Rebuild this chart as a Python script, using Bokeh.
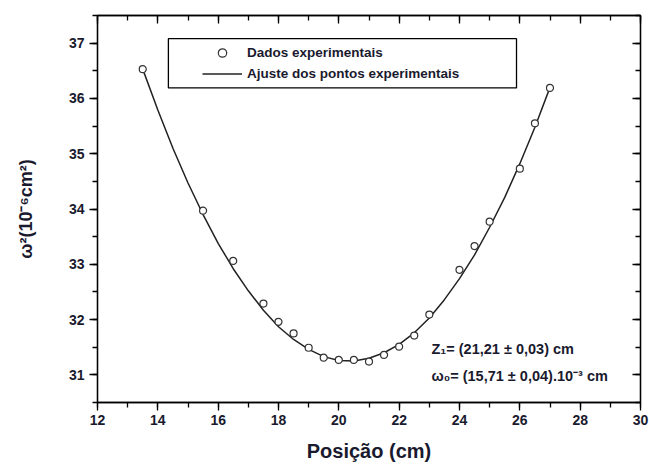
from bokeh.plotting import figure
from bokeh.models import (Range1d, LinearAxis, SingleIntervalTicker, Legend, LegendItem,
                          Label, BoxAnnotation, CustomJSTickFormatter)
from bokeh.embed import file_html
from bokeh.resources import INLINE

pos_cm = [13.5, 15.5, 16.5, 17.5, 18.0, 18.5, 19.0, 19.5, 20.0, 20.5, 21.0,
          21.5, 22.0, 22.5, 23.0, 24.0, 24.5, 25.0, 26.0, 26.5, 27.0]
w2_data = [36.53, 33.97, 33.06, 32.29, 31.96, 31.75, 31.49, 31.31, 31.27, 31.27, 31.24,
           31.36, 31.51, 31.71, 32.09, 32.90, 33.33, 33.77, 34.73, 35.55, 36.19]

# Fit curve
fit_x = [13.5, 14.0, 14.5, 15.0, 15.5, 16.0, 16.5, 17.0, 17.5, 18.0, 18.5, 19.0, 19.5, 20.0,
         20.5, 21.0, 21.5, 22.0, 22.5, 23.0, 23.5, 24.0, 24.5, 25.0, 25.5, 26.0, 26.5, 27.0]
fit_y = [36.53, 35.79, 35.10, 34.47, 33.90, 33.38, 32.92, 32.52, 32.17, 31.87, 31.64, 31.46,
         31.33, 31.26, 31.25, 31.30, 31.40, 31.55, 31.76, 32.03, 32.36, 32.74, 33.17, 33.67,
         34.21, 34.82, 35.48, 36.20]

legend_labels = ["Dados experimentais", "Ajuste dos pontos experimentais"]
annot_lines = ["Z\u2081= (21,21 \u00b1 0,03) cm", "\u03c9\u2080= (15,71 \u00b1 0,04).10\u207b\u00b3 cm"]

FONT = "Liberation Sans"
INK = "#000000"

p = figure(width=649, height=465, output_backend="svg", toolbar_location=None,
           x_range=Range1d(12, 30), y_range=Range1d(30.5, 37.5),
           min_border_left=97, min_border_right=9, min_border_top=15, min_border_bottom=63)
p.xgrid.visible = False
p.ygrid.visible = False
p.outline_line_color = INK
p.outline_line_width = 1.3
p.background_fill_color = "white"
p.border_fill_color = "white"

xt = SingleIntervalTicker(interval=2, num_minor_ticks=2)
yt = SingleIntervalTicker(interval=1, num_minor_ticks=2)

xa = p.xaxis[0]
xa.ticker = xt
ya = p.yaxis[0]
ya.ticker = yt

for ax in (xa, ya):
    ax.axis_line_color = INK
    ax.axis_line_width = 1.3
    ax.major_tick_line_color = INK
    ax.minor_tick_line_color = INK
    ax.major_tick_line_width = 1.3
    ax.minor_tick_line_width = 1.3
    ax.major_tick_out = 8
    ax.major_tick_in = 0
    ax.minor_tick_out = 5
    ax.minor_tick_in = 0
    ax.major_label_text_font = FONT
    ax.major_label_text_font_style = "bold"
    ax.major_label_text_font_size = "14px"
    ax.major_label_text_color = "#1a1a2e"
    ax.axis_label_text_font = FONT
    ax.axis_label_text_font_style = "bold"
    ax.axis_label_text_color = "#1a1a2e"

xa.axis_label = "Posi\u00e7\u00e3o (cm)"
xa.axis_label_text_font_size = "20px"
xa.major_label_standoff = 4
xa.axis_label_standoff = 12
ya.axis_label = "\u03c9\u00b2(10\u207b\u2076cm\u00b2)"
ya.axis_label_text_font_size = "18px"
ya.major_label_standoff = 5
ya.axis_label_standoff = 30

# mirror axes (top and right), ticks inward, no labels
for loc, tk in (("above", xt), ("right", yt)):
    ax = LinearAxis(ticker=tk, formatter=CustomJSTickFormatter(code="return ''"))
    ax.axis_line_color = INK
    ax.axis_line_width = 1.3
    ax.major_tick_line_color = INK
    ax.minor_tick_line_color = INK
    ax.major_tick_line_width = 1.3
    ax.minor_tick_line_width = 1.3
    ax.major_tick_in = 8
    ax.major_tick_out = 0
    ax.minor_tick_in = 5
    ax.minor_tick_out = 0
    ax.major_label_text_font_size = "1px"
    ax.major_label_standoff = 0
    p.add_layout(ax, loc)

r_fit = p.line(fit_x, fit_y, line_color="#222222", line_width=1.5)
r_pts = p.scatter(pos_cm, w2_data, marker="circle", size=7, fill_color="white",
                  line_color="#333333", line_width=1.2)

# legend frame
p.add_layout(BoxAnnotation(left=14.35, right=25.89, top=37.08, bottom=36.19,
                           fill_color=None, fill_alpha=0, line_color=INK, line_alpha=1.0,
                           line_width=1.3, level="overlay"))

legend = Legend(items=[LegendItem(label=legend_labels[0], renderers=[r_pts]),
                       LegendItem(label=legend_labels[1], renderers=[r_fit])],
                location=(105, 318), padding=0, margin=0, spacing=0,
                glyph_width=40, glyph_height=21, label_height=21, label_standoff=5,
                border_line_color=None, background_fill_alpha=0,
                label_text_font=FONT, label_text_font_style="bold",
                label_text_font_size="13.5px", label_text_color="#1a1a2e")
p.add_layout(legend)

ys = [31.47, 30.98]
for t, yv in zip(annot_lines, ys):
    p.add_layout(Label(x=23.07, y=yv, text=t, text_font=FONT, text_font_style="bold",
                       text_font_size="14.5px", text_color="#1a1a2e", text_baseline="middle"))

open("out.html", "w").write(file_html(p, INLINE))
